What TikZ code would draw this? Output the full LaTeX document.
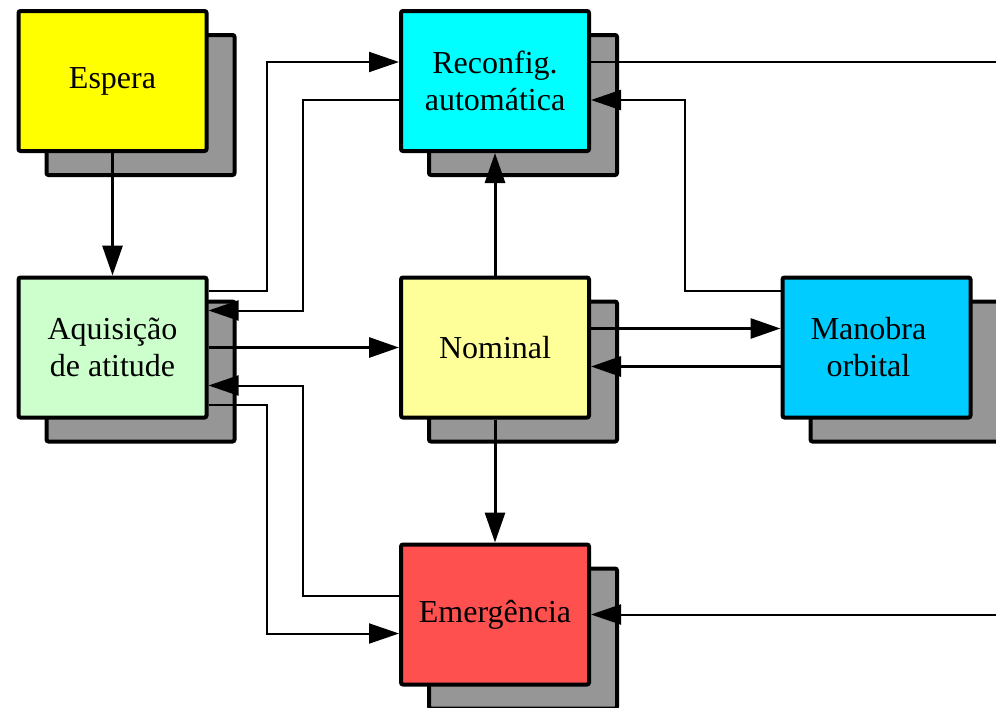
\documentclass[tikz,border=0pt]{standalone}
\usepackage{fontspec}
\setmainfont{Liberation Serif}
\usetikzlibrary{arrows.meta,shadows}
\definecolor{shadowgray}{HTML}{969696}
\definecolor{esperacol}{HTML}{FFFF00}
\definecolor{reconfcol}{HTML}{00FFFF}
\definecolor{aquiscol}{HTML}{CCFFCC}
\definecolor{nominalcol}{HTML}{FFFF99}
\definecolor{manobracol}{HTML}{00CCFF}
\definecolor{emergcol}{HTML}{FF5050}
\begin{document}
\begin{tikzpicture}[x=1pt,y=-1pt,>={Triangle[length=30pt,width=20pt]},
		mode/.style={draw,line width=4pt,rounded corners=2pt,minimum width=188pt,minimum height=140pt,align=center,font=\fontsize{32}{37}\selectfont,
			general shadow={draw=black,fill=shadowgray,line width=4pt,shadow xshift=28pt,shadow yshift=-24pt}},
		link/.style={line width=3pt},
		wire/.style={line width=2pt}]
		\useasboundingbox (0,0) rectangle (996,707);
		\node[mode,fill=esperacol] (espera) at (112.5,81) {Espera};
		\node[mode,fill=reconfcol] (reconfig) at (495,81) {Reconfig.\\automática};
		\node[mode,fill=aquiscol] (aquisicao) at (112.5,347.5) {Aquisição\\de atitude} edge [<-,link] (espera);
		\node[mode,fill=nominalcol] (nominal) at (495,347.5) {Nominal} edge [<-,link] (aquisicao) edge [->,link] (reconfig);
		\node[mode,fill=manobracol] (manobra) at (876.5,347.5) {\hspace*{-16pt}Manobra\\\hspace*{-16pt}orbital};
		\node[mode,fill=emergcol] (emergencia) at (495,614.5) {Emergência} edge [<-,link] (nominal);
		\coordinate (saida) at (1000,62);
		\coordinate (entrada) at (1000,614.5);
		% ligacoes com a aquisicao
		\draw[->,wire] ([yshift=57pt]aquisicao.east) -- ++(58,0) |- ([yshift=19pt]reconfig.west);
		\draw[->,wire] ([yshift=-19pt]reconfig.west) -- ++(-96,0) |- ([yshift=37pt]aquisicao.east);
		\draw[->,wire] ([yshift=19pt]emergencia.west) -- ++(-96,0) |- ([yshift=-38pt]aquisicao.east);
		\draw[->,wire] ([yshift=-57pt]aquisicao.east) -- ++(58,0) |- ([yshift=-19pt]emergencia.west);
		% manobra
		\draw[->,link] ([yshift=19pt]nominal.east) -- ([yshift=19pt]manobra.west);
		\draw[->,link] ([yshift=-19pt]manobra.west) -- ([yshift=-19pt]nominal.east);
		\draw[->,wire] ([yshift=57pt]manobra.west) -- ++(-96,0) |- ([yshift=-19pt]reconfig.east);
		% fora da figura
		\draw[wire] ([yshift=19pt]reconfig.east) -- (saida);
		\draw[->,wire] (entrada) -- (emergencia.east);
\end{tikzpicture}
\end{document}
